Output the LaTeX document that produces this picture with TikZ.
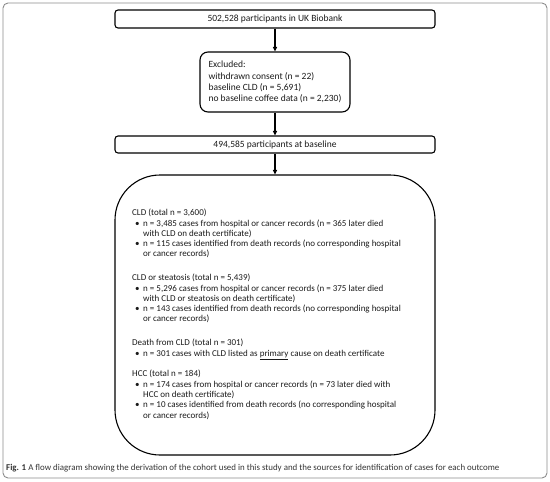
\documentclass[tikz,border=0pt]{standalone}
\usepackage{fontspec}
\setmainfont{Carlito}
\usetikzlibrary{arrows.meta}
\definecolor{txt}{HTML}{1A1A1A}
\definecolor{capcol}{HTML}{333333}
\definecolor{framecol}{HTML}{8C8C8C}
\newcommand\myb{\makebox[11pt][l]{\hspace{3pt}•}}
\newcommand\myc{\makebox[11pt][l]{}}
\begin{document}
\begin{tikzpicture}[x=1pt,y=-1pt,
  box/.style={draw=black, line width=1.1pt, rounded corners=3pt, minimum width=320pt,
    minimum height=18pt, inner sep=0pt, font=\fontsize{9.5}{11.1}\selectfont, text=txt},
  bigbox/.style={draw=black, line width=1.1pt, rounded corners=45pt, minimum width=320pt,
    minimum height=280pt, inner sep=0pt},
  body/.style={anchor=north west, inner sep=0pt, align=left,
    font=\fontsize{9.0}{10.3}\selectfont, text=txt},
  arr/.style={-{Triangle[length=4.5pt,width=4pt]}, line width=1.1pt}
]
\useasboundingbox (0,0) rectangle (550,482);
\draw[framecol, line width=0.9pt, rounded corners=5pt] (3,3) rectangle (547,478);

\node[box] (b1) at (275,19) {502,528 participants in UK Biobank};
\node[box, rounded corners=8pt, minimum width=150pt, minimum height=60pt, align=left] (b2) at (275,82)
  {Excluded:\\withdrawn consent (n = 22)\\baseline CLD (n = 5,691)\\no baseline coffee data (n = 2,230)};
\node[box, minimum height=17pt] (b3) at (275,144.5) {494,585 participants at baseline};
\node[bigbox] (b4) at (275,315) {};
\node[body] (t4) at (132,209) {%
CLD (total n = 3,600)\\
\myb n = 3,485 cases from hospital or cancer records (n = 365 later died\\
\myc with CLD on death certificate)\\
\myb n = 115 cases identified from death records (no corresponding hospital\\
\myc or cancer records)\\[13.5pt]
CLD or steatosis (total n = 5,439)\\
\myb n = 5,296 cases from hospital or cancer records (n = 375 later died\\
\myc with CLD or steatosis on death certificate)\\
\myb n = 143 cases identified from death records (no corresponding hospital\\
\myc or cancer records)\\[13.5pt]
Death from CLD (total n = 301)\\
\myb n = 301 cases with CLD listed as \underline{primary} cause on death certificate\\[10.5pt]
HCC (total n = 184)\\
\myb n = 174 cases from hospital or cancer records (n = 73 later died with\\
\myc HCC on death certificate)\\
\myb n = 10 cases identified from death records (no corresponding hospital\\
\myc or cancer records)};

\draw[arr] (b1) -- (b2);
\draw[arr] (b2) -- (b3);
\draw[arr] (b3) -- (b4);

\node[anchor=base west, inner sep=0pt, font=\fontsize{8.9}{10}\selectfont, text=capcol] (cap) at (6,470)
  {\textbf{Fig. 1} A flow diagram showing the derivation of the cohort used in this study and the sources for identification of cases for each outcome};
\end{tikzpicture}
\end{document}
